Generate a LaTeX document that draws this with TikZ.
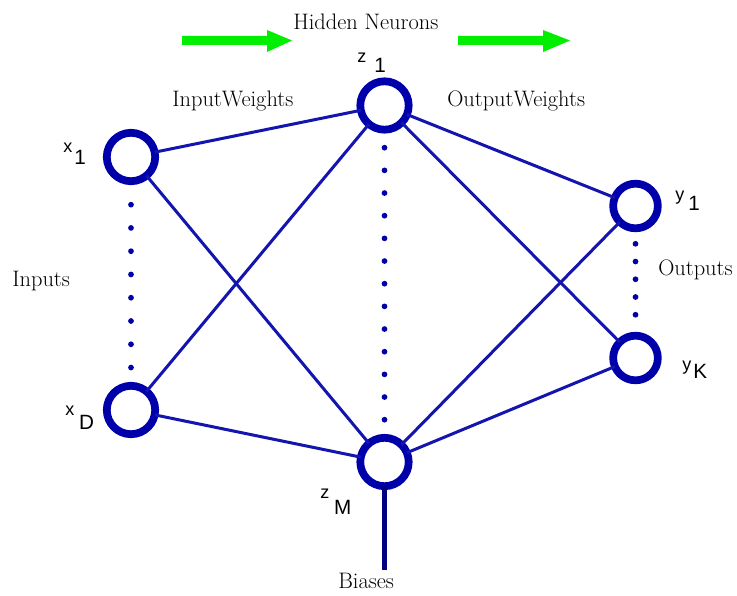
\documentclass[tikz,border=0pt]{standalone}
\usepackage{fontspec}
\newfontfamily\lsans{Liberation Sans}
\definecolor{nblue}{RGB}{0,0,170}
\definecolor{wblue}{RGB}{20,20,175}
\definecolor{navyb}{RGB}{0,0,128}
\definecolor{agreen}{RGB}{0,238,0}
\newcommand\sublbl[4]{{\lsans\fontsize{13.5}{14}\selectfont #1}\hspace{#3}\raisebox{-#4}{\lsans\fontsize{15.5}{16}\selectfont #2}}
\tikzset{
  neuron/.style={circle, draw=nblue, line width=5.8pt, minimum size=36.3pt, inner sep=0pt, outer sep=0pt},
  outn/.style={neuron, minimum size=33.5pt},
  wire/.style={draw=wblue, line width=2.25pt},
  dotline/.style={draw=nblue, line width=4.3pt, line cap=round},
  biasline/.style={draw=navyb, line width=3.75pt},
  arrowshape/.style={fill=agreen},
  lbl/.style={anchor=base west, inner sep=0pt, font=\fontsize{16.8}{20}\selectfont},
  slbl/.style={anchor=base west, inner sep=0pt}
}
\begin{document}
\begin{tikzpicture}[x=0.75pt,y=-0.75pt]
\useasboundingbox (0,0) rectangle (737,595);
% neurons
\node[neuron] (x1) at (131,157) {};
\node[neuron] (xD) at (131,410) {};
\node[neuron] (z1) at (384.5,105.5) {};
\node[neuron] (zM) at (384.5,462) {};
\node[outn] (y1) at (635.5,206) {};
\node[outn] (yK) at (635.5,358) {};
% weights
\draw[wire] (x1) -- (z1);
\draw[wire] (x1) -- (zM);
\draw[wire] (xD) -- (z1);
\draw[wire] (xD) -- (zM);
\draw[wire] (z1) -- (y1);
\draw[wire] (z1) -- (yK);
\draw[wire] (zM) -- (y1);
\draw[wire] (zM) -- (yK);
% dotted columns
\draw[dotline, dash pattern=on 0pt off 17.45pt, shorten <=17.6pt, shorten >=12.6pt] (x1) -- (xD);
\draw[dotline, dash pattern=on 0pt off 17pt, shorten <=13.5pt, shorten >=12.6pt] (z1) -- (zM);
\draw[dotline, dash pattern=on 0pt off 13.3pt, shorten <=11.6pt, shorten >=14.5pt] (y1) -- (yK);
% bias
\coordinate (bend) at (384.5,570);
\draw[biasline] (zM) -- (bend);
% green arrows
\fill[arrowshape] (182,36) -- (267,36) -- (267,30) -- (292,40.5) -- (267,52) -- (267,45) -- (182,45) -- cycle;
\fill[arrowshape] (458,36) -- (543,36) -- (543,30) -- (570,40.5) -- (543,52) -- (543,45) -- (458,45) -- cycle;
% texts
\node[lbl] (thidden) at (293,29.5) {Hidden Neurons};
\node[lbl] (tinw) at (172,107) {InputWeights};
\node[lbl] (toutw) at (447,107) {OutputWeights};
\node[lbl] (tin) at (12,286) {Inputs};
\node[lbl] (tout) at (658,275) {Outputs};
\node[lbl] (tbias) at (338,588) {Biases};
% neuron labels
\node[slbl] (lx1) at (63,153) {\sublbl{x}{1}{1.5pt}{9pt}};
\node[slbl] (lxD) at (65,415) {\sublbl{x}{D}{3.7pt}{11.2pt}};
\node[slbl] (lz1) at (357,63) {\sublbl{z}{1}{6pt}{7.5pt}};
\node[slbl] (lzM) at (320,498) {\sublbl{z}{M}{3.7pt}{12.7pt}};
\node[slbl] (ly1) at (675,200) {\sublbl{y}{1}{3pt}{7.5pt}};
\node[slbl] (lyK) at (682,370) {\sublbl{y}{K}{1.5pt}{6pt}};
\end{tikzpicture}
\end{document}
